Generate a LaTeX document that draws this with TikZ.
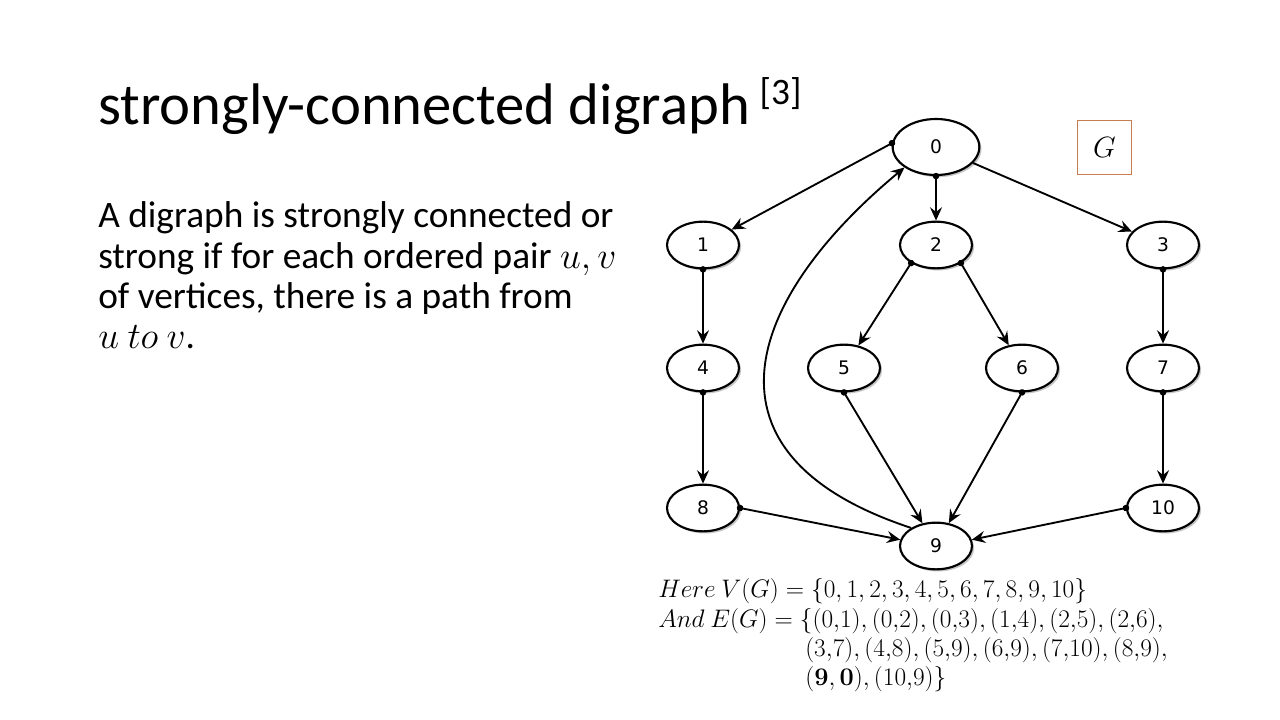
\RequirePackage{fix-cm}
\documentclass[tikz,border=0pt]{standalone}
\usepackage[no-math]{fontspec}
\setmainfont{Carlito}
\newfontfamily\vertexfont{DejaVu Sans}
\usetikzlibrary{shapes.geometric, arrows.meta, shadows}
\definecolor{gboxcolor}{RGB}{200,125,80}

\begin{document}
\begin{tikzpicture}[x=0.75pt, y=-0.75pt,
    vertex/.style={ellipse, draw, line width=1.6pt, fill=white, minimum width=54pt, minimum height=35pt,
        inner sep=0pt, font=\vertexfont\fontsize{14}{14}\selectfont,
        drop shadow={shadow xshift=1.6pt, shadow yshift=-1.6pt, fill=black!45, opacity=0.5}},
    arc/.style={line width=1.4pt, -{Stealth[length=10pt, width=9pt, inset=3.5pt]}},
    dotarc/.style={arc, {Circle[length=4.8pt]}-{Stealth[length=10pt, width=9pt, inset=3.5pt]}, shorten <=-2.4pt},
    body/.style={anchor=base west, inner sep=0pt, font=\fontsize{28}{30}\selectfont},
    sets/.style={anchor=base west, inner sep=0pt, font=\fontsize{19}{21}\selectfont}]
    % Slide
    \fill[white] (0,0) rectangle (1280,720);

    % Title and definition
    \node[anchor=base west, inner sep=0pt, font=\fontsize{44}{44}\selectfont] (title) at (98,125)
        {strongly-connected digraph\,\raisebox{15pt}{\fontsize{28}{28}\selectfont[3]}};
    \foreach \txt [count=\i from 0] in {A digraph is strongly connected or,
        {strong if for each ordered pair $u, v$}, {of vertices, there is a path from}, {$u\ to\ v$.}}
        \node[body] (def\i) at (98,228+40.3*\i) {\txt};

    % Vertices
    \node[vertex, minimum width=65pt, minimum height=42pt] (n0) at (936,147) {0};
    \node[vertex] (n1) at (703,245) {1};
    \node[vertex] (n2) at (936,245) {2};
    \node[vertex] (n3) at (1163,245) {3};
    \node[vertex] (n4) at (703,368) {4};
    \node[vertex] (n5) at (844,368) {5};
    \node[vertex] (n6) at (1022,368) {6};
    \node[vertex] (n7) at (1163,368) {7};
    \node[vertex] (n8) at (703,508) {8};
    \node[vertex] (n9) at (936,546) {9};
    \node[vertex] (n10) at (1163,508) {10};
    \node[draw=gboxcolor, line width=0.8pt, minimum width=40pt, minimum height=41pt,
        font=\fontsize{22}{22}\selectfont] (glabel) at (1104.5,147.5) {$G$};

    % Arcs
    \draw[dotarc] (n0.175) -- (n1);
    \draw[dotarc] (n0.south) -- (n2.north);
    \draw[arc] (n0) -- (n3);
    \draw[dotarc] (n1.south) -- (n4.north);
    \draw[dotarc] (n2.216) -- (n5);
    \draw[dotarc] (n2.-36) -- (n6);
    \draw[dotarc] (n3.south) -- (n7.north);
    \draw[dotarc] (n4.south) -- (n8.north);
    \draw[dotarc] (n5.south) -- (n9);
    \draw[dotarc] (n6.south) -- (n9);
    \draw[dotarc] (n7.south) -- (n10.north);
    \draw[dotarc] (n8.east) -- (n9.170);
    \draw[dotarc] (n10.west) -- (n9.10);
    \draw[arc] (n9.144) .. controls (690,455) and (745,300) .. (n0.213);

    % Vertex and edge sets
    \node[sets] (vset) at (658,597) {$Here\ V(G) = \{0, 1, 2, 3, 4, 5, 6, 7, 8, 9, 10\}$};
    \node[sets] (eset1) at (658,627) {$And\ E(G) = \{(0{,}1), (0{,}2), (0{,}3), (1{,}4), (2{,}5), (2{,}6),$};
    \node[sets] (eset2) at (805,656) {$(3{,}7), (4{,}8), (5{,}9), (6{,}9), (7{,}10), (8{,}9),$};
    \node[sets] (eset3) at (805,685) {$(\mathbf{9}, \mathbf{0}), (10{,}9)\}$};
\end{tikzpicture}
\end{document}
